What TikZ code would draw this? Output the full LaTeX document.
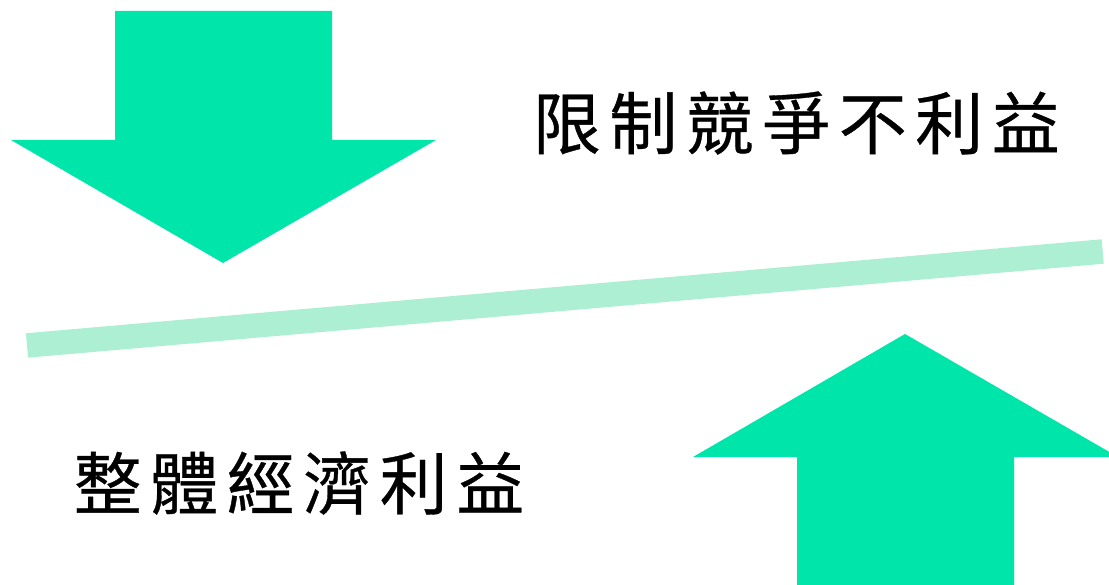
\documentclass[tikz,border=0pt]{standalone}
\usepackage{fontspec}
\newfontfamily\cjk[LetterSpace=12.5, FakeBold=0.5]{Noto Sans CJK TC}
\definecolor{arrowgreen}{RGB}{0,229,170}
\definecolor{bargreen}{RGB}{173,239,211}

\begin{document}
\begin{tikzpicture}[x=1pt, y=-1pt, line width=1.5 pt]
\useasboundingbox (0,0) rectangle (1109,585);
\clip (0,0) rectangle (1109,585);

%\draw (0,0) rectangle (1109,585);

% down arrow
\fill[arrowgreen] (115,11) -- (332,11) -- (332,140) -- (436,140) -- (223,263)
    -- (11,140) -- (115,140) -- cycle;

% up arrow
\fill[arrowgreen] (797,600) -- (797,457) -- (693,457) -- (905,334) -- (1118,457)
    -- (1014,457) -- (1014,600) -- cycle;

% balance bar
\draw[line width=24.5, color=bargreen] (27,345.5) -- (1102.7,251.5);

\node[anchor=west, inner sep=0] (cost) at (532,123) {\fontsize{68}{68}\cjk 限制競爭不利益};
\node[anchor=west, inner sep=0] (gain) at (73,483) {\fontsize{68}{68}\cjk 整體經濟利益};
\end{tikzpicture}
\end{document}
